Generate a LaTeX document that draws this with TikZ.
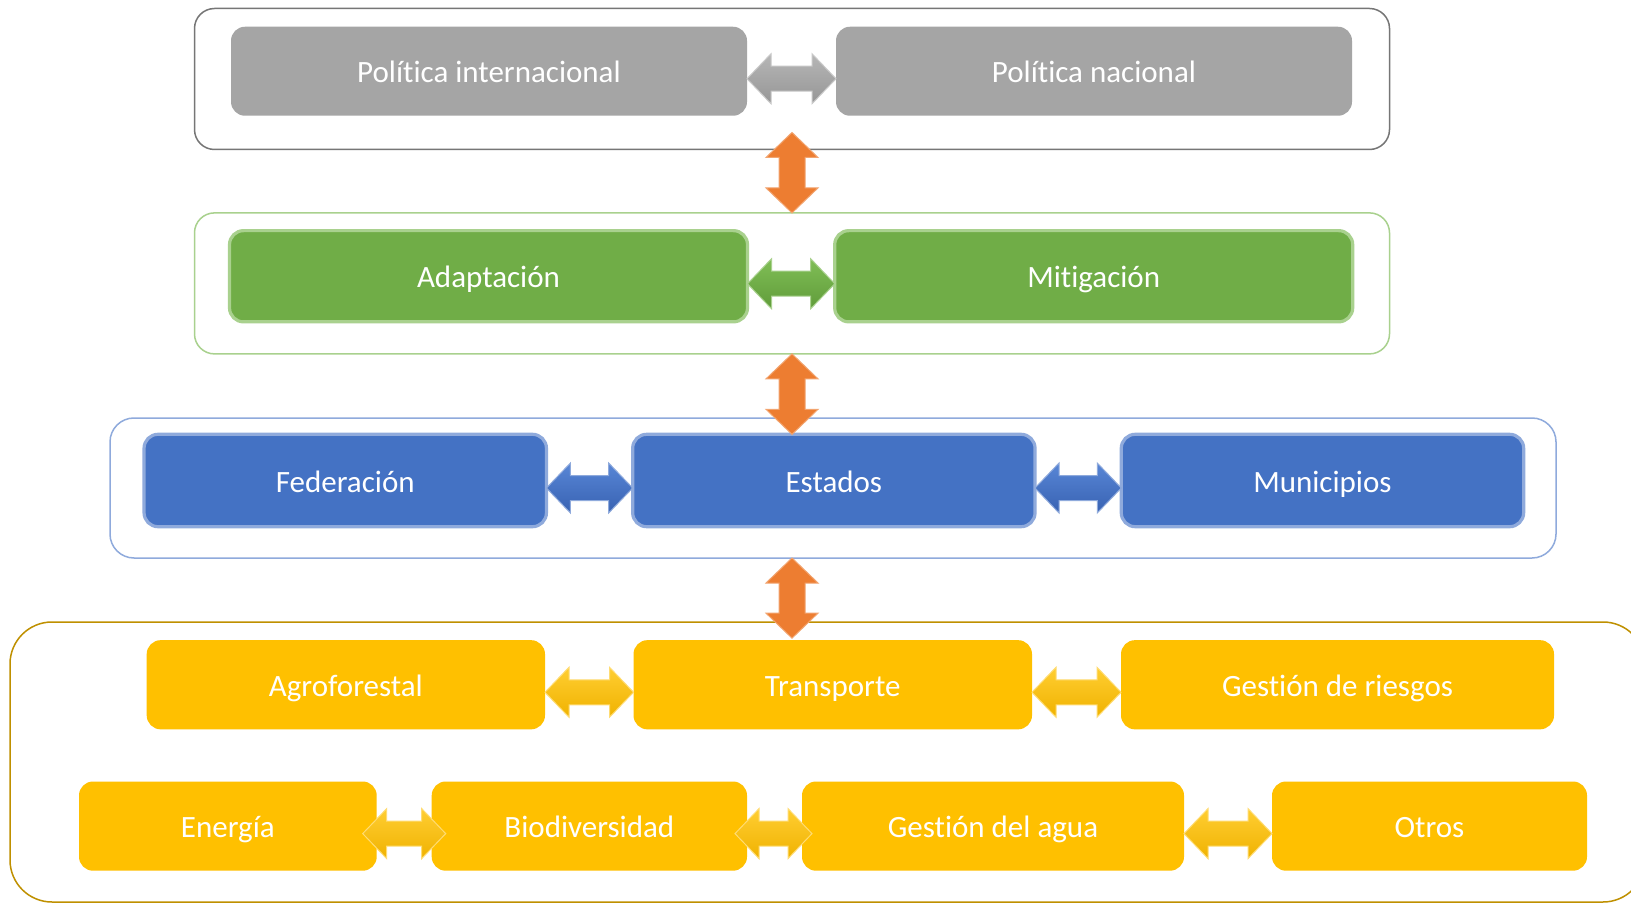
\documentclass[tikz,border=0pt]{standalone}
\usepackage{fontspec}
\setmainfont{Carlito}[Ligatures=NoCommon]
\usetikzlibrary{positioning}
\definecolor{mygray}{RGB}{165,165,165}
\definecolor{mygrayhi}{RGB}{182,182,182}
\definecolor{mygraylo}{RGB}{150,150,150}
\definecolor{mygrayline}{RGB}{118,118,118}
\definecolor{mygreen}{RGB}{112,173,71}
\definecolor{mygreenhi}{RGB}{128,190,86}
\definecolor{mygreenlo}{RGB}{96,156,58}
\definecolor{mygreenline}{RGB}{169,209,142}
\definecolor{myblue}{RGB}{68,114,196}
\definecolor{mybluehi}{RGB}{88,134,214}
\definecolor{mybluelo}{RGB}{56,98,178}
\definecolor{myblueline}{RGB}{143,170,220}
\definecolor{myyellow}{RGB}{255,192,0}
\definecolor{myyellowhi}{RGB}{255,206,50}
\definecolor{myyellowlo}{RGB}{240,178,0}
\definecolor{myyellowline}{RGB}{191,144,0}
\definecolor{myorange}{RGB}{237,125,49}
\tikzset{
  frame/.style={draw, rounded corners=10pt, line width=0.75pt, inner sep=0pt, outer sep=0pt,
    minimum width=597.5pt, minimum height=70.5pt},
  box/.style={rounded corners=7pt, inner sep=0pt, outer sep=0pt, minimum height=44.5pt,
    text=white, font=\fontsize{15.5}{18}\selectfont, text height=12.5pt, text depth=0.8pt},
  greenbox/.style={box, fill=mygreen, draw=mygreenline, line width=1.6pt, minimum width=259pt, minimum height=45.6pt},
  bluebox/.style={box, fill=myblue, draw=myblueline, line width=1.6pt, minimum width=201.2pt, minimum height=46.2pt},
  yellowbox/.style={box, fill=myyellow, minimum height=44.6pt},
  hdbl/.style={line width=0.5pt, line join=miter, transform canvas={yshift=-3.75pt},
    to path={-- ([xshift=12pt,yshift=12.5pt]\tikztostart) -- ([xshift=12pt,yshift=6.25pt]\tikztostart)
      -- ([xshift=-12pt,yshift=6.25pt]\tikztotarget) -- ([xshift=-12pt,yshift=12.5pt]\tikztotarget)
      -- (\tikztotarget) -- ([xshift=-12pt,yshift=-12.5pt]\tikztotarget) -- ([xshift=-12pt,yshift=-6.25pt]\tikztotarget)
      -- ([xshift=12pt,yshift=-6.25pt]\tikztostart) -- ([xshift=12pt,yshift=-12.5pt]\tikztostart) -- cycle}},
  vdbl/.style={fill=myorange, draw=myorange!70!white, line width=0.5pt, line join=miter,
    to path={-- ([xshift=13pt,yshift=-12.5pt]\tikztostart) -- ([xshift=6.5pt,yshift=-12.5pt]\tikztostart)
      -- ([xshift=6.5pt,yshift=12.5pt]\tikztotarget) -- ([xshift=13pt,yshift=12.5pt]\tikztotarget)
      -- (\tikztotarget) -- ([xshift=-13pt,yshift=12.5pt]\tikztotarget) -- ([xshift=-6.5pt,yshift=12.5pt]\tikztotarget)
      -- ([xshift=-6.5pt,yshift=-12.5pt]\tikztostart) -- ([xshift=-13pt,yshift=-12.5pt]\tikztostart) -- cycle}},
  grayarrow/.style={hdbl, top color=mygrayhi, bottom color=mygraylo, draw=mygray!60!white},
  greenarrow/.style={hdbl, top color=mygreenhi, bottom color=mygreenlo, draw=mygreenline},
  bluearrow/.style={hdbl, top color=mybluehi, bottom color=mybluelo, draw=myblueline},
  yellowarrow/.style={hdbl, top color=myyellowhi, bottom color=myyellowlo, draw=myyellow!55!white}
}
\begin{document}
\begin{tikzpicture}[x=0.5pt, y=-0.5pt]
    \useasboundingbox[fill=white] (0,0) rectangle (1631,903);
    \node (topc) [frame, draw=mygrayline] at (792,79) {};
    \node (greenc) [frame, draw=mygreenline] at (792,283.4) {};
    \node (bluec) [frame, draw=myblueline, minimum width=723pt, minimum height=70pt, rounded corners=12pt] at (833,488) {};
    \node (yellowc) [frame, draw=myyellowline, minimum width=817.5pt, minimum height=140pt, rounded corners=21pt] at (827.5,762) {};
    \node (pint) [box, fill=mygray, minimum width=258pt] at (489,71.25) {Política internacional};
    \node (pnac) [box, fill=mygray, minimum width=258pt, right=44.5pt of pint] {Política nacional};
    \node (adapt) [greenbox] at (488.5,276.25) {Adaptación};
    \node (mitig) [greenbox, right=43.6pt of adapt] {Mitigación};
    \node (fed) [bluebox] at (345.25,480.5) {Federación};
    \node (est) [bluebox, right=43.1pt of fed] {Estados};
    \node (mun) [bluebox, right=43.1pt of est] {Municipios};
    \node (agro) [yellowbox, minimum width=199.15pt] at (345.85,684.75) {Agroforestal};
    \node (transp) [yellowbox, minimum width=199.25pt, right=44.25pt of agro] {Transporte};
    \node (riesgo) [yellowbox, minimum width=216.5pt, right=44.5pt of transp] {Gestión de riesgos};
    \node (energia) [yellowbox, minimum width=148.85pt] at (227.85,826.1) {Energía};
    \node (biodiv) [yellowbox, minimum width=157.65pt, right=27.5pt of energia] {Biodiversidad};
    \node (agua) [yellowbox, minimum width=191pt, right=27.5pt of biodiv] {Gestión del agua};
    \node (otros) [yellowbox, minimum width=157.5pt, right=44pt of agua] {Otros};
    \coordinate (eb1) at ([xshift=-7pt]energia.east);
    \coordinate (eb2) at ([xshift=7pt]biodiv.west);
    \coordinate (ba1) at ([xshift=-6pt]biodiv.east);
    \coordinate (ba2) at ([xshift=5pt]agua.west);
    \coordinate (o1) at ([yshift=8.5pt]topc.south);
    \coordinate (o2) at (greenc.south |- est.north);
    \coordinate (o3a) at (greenc.south |- bluec.south);
    \coordinate (o3b) at ([yshift=1pt]greenc.south |- transp.north);
    \path[grayarrow] (pint.east) to (pnac.west);
    \path[greenarrow] (adapt.east) to (mitig.west);
    \path[bluearrow] (fed.east) to (est.west);
    \path[bluearrow] (est.east) to (mun.west);
    \path[yellowarrow] (agro.east) to (transp.west);
    \path[yellowarrow] (transp.east) to (riesgo.west);
    \path[yellowarrow] (eb1) to (eb2);
    \path[yellowarrow] (ba1) to (ba2);
    \path[yellowarrow] (agua.east) to (otros.west);
    \path[vdbl] (o1) to (greenc.north);
    \path[vdbl] (greenc.south) to (o2);
    \path[vdbl] (o3a) to (o3b);
\end{tikzpicture}
\end{document}
